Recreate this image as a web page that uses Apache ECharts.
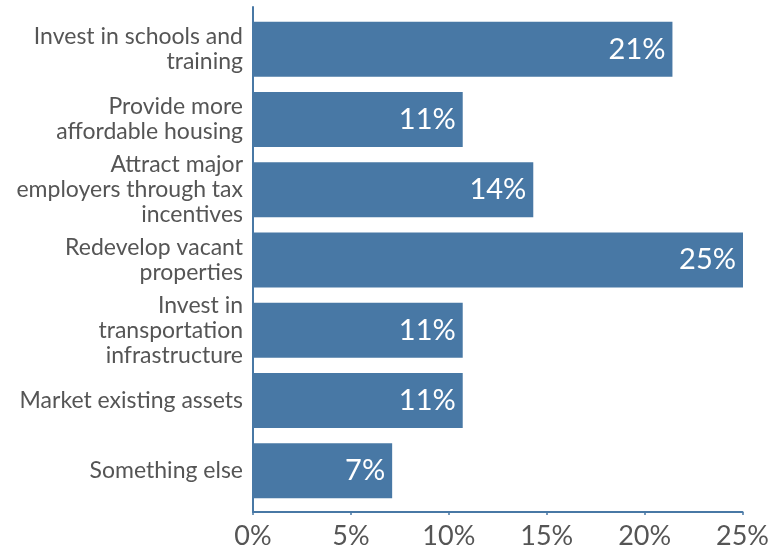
<!DOCTYPE html>
<html>
<head>
<meta charset="utf-8">
<script src="https://cdn.jsdelivr.net/npm/echarts@6/dist/echarts.min.js"></script>
<style>
    html, body { margin: 0; padding: 0; background: #fff; }
    #chart1 { width: 772px; height: 550px; }
</style>
</head>
<body>
<div id="chart1"></div>
<script>
// categories, top to bottom
var categories = [
    "Invest in schools and\ntraining",
    "Provide more\naffordable housing",
    "Attract major\nemployers through tax\nincentives",
    "Redevelop vacant\nproperties",
    "Invest in\ntransportation\ninfrastructure",
    "Market existing assets",
    "Something else"
];
// share of responses (%)
var values = [21.4, 10.7, 14.3, 25.0, 10.7, 10.7, 7.1];
// x axis ticks
var tickValues = [0, 5, 10, 15, 20, 25];

var index = {
    init: function () {
        var mychart = echarts.init(document.getElementById("chart1"));
        this.loadchart(mychart);
    },
    loadchart: function (chart) {
        var blue = "#4878a5";
        var grey = "#555555";
        var font = "Lato";
        var option = {
            animation: false,
            grid: [
                // bars
                { left: 253, right: 29, top: 14, bottom: 44 },
                // axis frame
                { left: 253, right: 29, top: 7, bottom: 38 }
            ],
            xAxis: [
                {
                    gridIndex: 0,
                    type: 'value',
                    min: tickValues[0],
                    max: tickValues[tickValues.length - 1],
                    interval: 5,
                    show: false
                },
                {
                    gridIndex: 1,
                    type: 'value',
                    min: tickValues[0],
                    max: tickValues[tickValues.length - 1],
                    interval: 5,
                    splitLine: { show: false },
                    axisLine: { show: true, lineStyle: { color: blue, width: 2 } },
                    axisTick: { show: true, length: 3, lineStyle: { color: blue, width: 1.5 } },
                    axisLabel: {
                        color: grey,
                        fontFamily: font,
                        fontSize: 27,
                        margin: 11,
                        formatter: function (v) { return v + '%'; }
                    }
                }
            ],
            yAxis: [
                {
                    gridIndex: 0,
                    type: 'category',
                    inverse: true,
                    data: categories,
                    axisLine: { show: false },
                    axisTick: { show: false },
                    axisLabel: {
                        color: grey,
                        fontFamily: font,
                        fontSize: 23,
                        lineHeight: 25,
                        margin: 10,
                        align: 'right'
                    }
                },
                {
                    gridIndex: 1,
                    type: 'value',
                    min: 0,
                    max: 1,
                    splitLine: { show: false },
                    axisTick: { show: false },
                    axisLabel: { show: false },
                    axisLine: { show: true, lineStyle: { color: blue, width: 2 } }
                }
            ],
            series: [
                {
                    type: 'bar',
                    xAxisIndex: 0,
                    yAxisIndex: 0,
                    data: values,
                    barWidth: 55,
                    itemStyle: { color: blue },
                    label: {
                        show: true,
                        position: 'insideRight',
                        distance: 7,
                        color: "#ffffff",
                        fontFamily: font,
                        fontSize: 29,
                        formatter: function (p) { return Math.round(p.value) + '%'; }
                    }
                }
            ]
        };
        chart.setOption(option);
    }
};

index.init();
</script>
</body>
</html>
